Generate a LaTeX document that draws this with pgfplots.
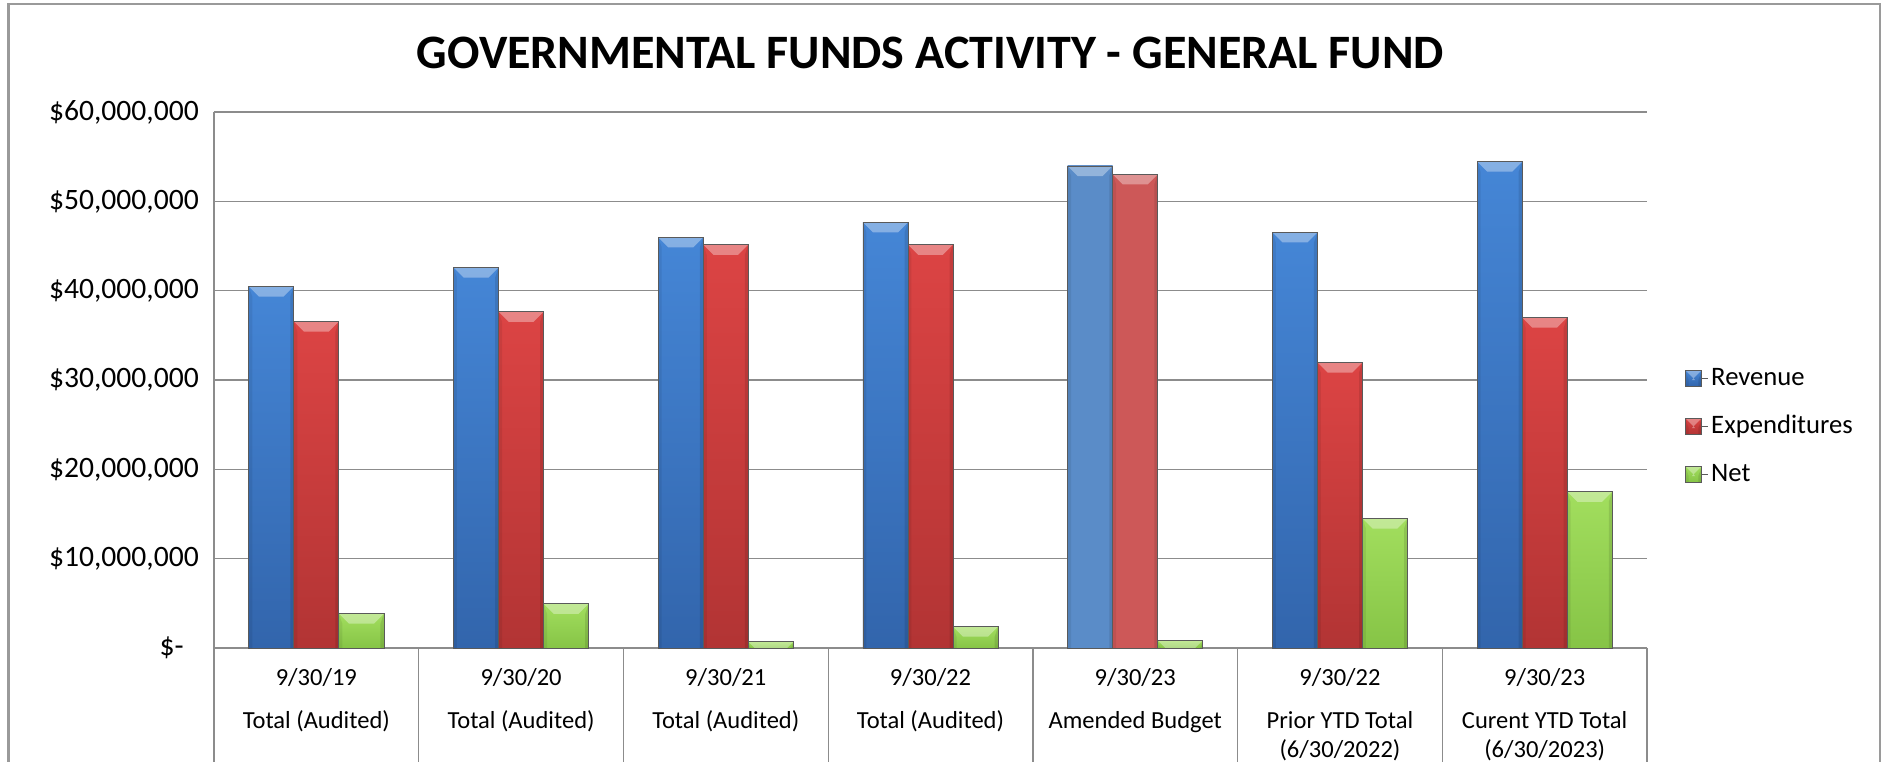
\documentclass[border=0pt]{standalone}
\usepackage{pgfplots}
\pgfplotsset{compat=1.18}
\usepackage{fontspec}
\setmainfont{Carlito}
\definecolor{revtop}{HTML}{4586D6}
\definecolor{revbot}{HTML}{3265AC}
\definecolor{exptop}{HTML}{DC4444}
\definecolor{expbot}{HTML}{B23434}
\definecolor{nettop}{HTML}{A2DE5E}
\definecolor{netbot}{HTML}{86C446}
\definecolor{amrev}{HTML}{5A8CC8}
\definecolor{amexp}{HTML}{CD5858}
\definecolor{gridc}{HTML}{8C8C8C}
\definecolor{framec}{HTML}{9A9A9A}
\definecolor{barline}{HTML}{5A5A5A}
\newcommand\ppb[1]{\pgfpointanchor{path picture bounding box}{#1}}
\newcommand\bevelcode{%
  \pgfsetfillcolor{white}\pgfsetfillopacity{0.35}%
  \pgfpathmoveto{\ppb{north west}}%
  \pgfpathlineto{\ppb{north east}}%
  \pgfpathlineto{\pgfpointadd{\ppb{north east}}{\pgfpoint{-3.8pt}{-3.8pt}}}%
  \pgfpathlineto{\pgfpointadd{\ppb{north west}}{\pgfpoint{3.8pt}{-3.8pt}}}%
  \pgfpathclose\pgfusepath{fill}%
  \pgfsetfillcolor{black}\pgfsetfillopacity{0.10}%
  \pgfpathmoveto{\ppb{north east}}%
  \pgfpathlineto{\ppb{south east}}%
  \pgfpathlineto{\pgfpointadd{\ppb{south east}}{\pgfpoint{-1.3pt}{0pt}}}%
  \pgfpathlineto{\pgfpointadd{\ppb{north east}}{\pgfpoint{-1.3pt}{-3.8pt}}}%
  \pgfpathclose\pgfusepath{fill}%
  \pgfsetfillopacity{0.07}%
  \pgfpathmoveto{\ppb{north west}}%
  \pgfpathlineto{\ppb{south west}}%
  \pgfpathlineto{\pgfpointadd{\ppb{south west}}{\pgfpoint{1.3pt}{0pt}}}%
  \pgfpathlineto{\pgfpointadd{\ppb{north west}}{\pgfpoint{1.3pt}{-3.8pt}}}%
  \pgfpathclose\pgfusepath{fill}%
}
\tikzset{bevel/.style={path picture={\bevelcode}}}
\pgfplotsset{
  revbar/.style={forget plot, bar shift=-0.22, draw=barline, line width=0.3pt, top color=revtop, bottom color=revbot, bevel},
  expbar/.style={forget plot, bar shift=0, draw=barline, line width=0.3pt, top color=exptop, bottom color=expbot, bevel},
  netbar/.style={forget plot, bar shift=0.22, draw=barline, line width=0.3pt, top color=nettop, bottom color=netbot, bevel},
}
\begin{document}
\begin{tikzpicture}[x=1pt,y=1pt]
\useasboundingbox (0,0) rectangle (708.375,285.75);
\begin{scope}
\clip (0,0) rectangle (708.375,285.75);
\fill[white] (0,0) rectangle (708.375,285.75);
\draw[line width=0.8pt, framec] (3.2,-10) -- (3.2,284.4) -- (705,284.4) -- (705,-10);
\foreach \k in {0,...,7} \draw[gridc, line width=0.5pt] (80.25+\k*76.77, 42.75) -- (80.25+\k*76.77, -10);
\end{scope}
\node[anchor=base, font=\fontsize{18}{22}\selectfont\bfseries] at (348.9,259.9) {GOVERNMENTAL FUNDS ACTIVITY - GENERAL FUND};
\begin{axis}[
  at={(80.25pt,42.75pt)}, anchor=south west,
  scale only axis, width=537.4pt, height=201pt,
  ybar, bar width=0.22,
  xmin=-0.5, xmax=6.5, ymin=0, ymax=60000000,
  enlargelimits=false,
  axis x line*=bottom, axis y line*=left,
  axis line style={gridc, line width=0.5pt},
  major tick length=0pt,
  ymajorgrids, grid style={gridc, line width=0.5pt},
  scaled y ticks=false,
  ytick={0,10000000,20000000,30000000,40000000,50000000,60000000},
  yticklabels={\$-\phantom{0},{\$10,000,000},{\$20,000,000},{\$30,000,000},{\$40,000,000},{\$50,000,000},{\$60,000,000}},
  yticklabel style={font=\fontsize{11.1}{13}\selectfont, inner sep=0pt, xshift=-5.5pt},
  xtick={0,1,2,3,4,5,6},
  xticklabels={{9/30/19\\[5.1pt]Total (Audited)},{9/30/20\\[5.1pt]Total (Audited)},{9/30/21\\[5.1pt]Total (Audited)},{9/30/22\\[5.1pt]Total (Audited)},{9/30/23\\[5.1pt]Amended Budget},{9/30/22\\[5.1pt]Prior YTD Total\\(6/30/2022)},{9/30/23\\[5.1pt]Curent YTD Total\\(6/30/2023)}},
  xticklabel style={align=center, font=\fontsize{9.2}{11}\selectfont, anchor=north, inner sep=0pt, yshift=-7.35pt},
  legend style={draw=none, fill=none, at={(1.026,0.4135)}, anchor=west,
    font=\fontsize{10}{12}\selectfont, row sep=7pt, inner sep=0pt,
    nodes={text height=7pt, text depth=2pt, inner sep=1pt},
    /tikz/every even column/.append style={column sep=0pt}},
  legend cell align=left,
  legend image code/.code={\draw[#1] (0pt,-3.1pt) rectangle (6.2pt,3.1pt); \path (6.2pt,0pt) -- (8.6pt,0pt);},
  clip=false,
]
\addlegendimage{draw=barline, line width=0.3pt, top color=revtop, bottom color=revbot, bevel}
\addlegendentry{Revenue}
\addlegendimage{draw=barline, line width=0.3pt, top color=exptop, bottom color=expbot, bevel}
\addlegendentry{Expenditures}
\addlegendimage{draw=barline, line width=0.3pt, top color=nettop, bottom color=netbot, bevel}
\addlegendentry{Net}
% Revenue
\addplot[revbar] coordinates {(0,40480000)};
\addplot[revbar] coordinates {(1,42600000)};
\addplot[revbar] coordinates {(2,45970000)};
\addplot[revbar] coordinates {(3,47650000)};
\addplot[revbar, top color=amrev, bottom color=amrev] coordinates {(4,53960000)};
\addplot[revbar] coordinates {(5,46530000)};
\addplot[revbar] coordinates {(6,54450000)};
% Expenditures
\addplot[expbar] coordinates {(0,36550000)};
\addplot[expbar] coordinates {(1,37650000)};
\addplot[expbar] coordinates {(2,45150000)};
\addplot[expbar] coordinates {(3,45150000)};
\addplot[expbar, top color=amexp, bottom color=amexp] coordinates {(4,53030000)};
\addplot[expbar] coordinates {(5,31970000)};
\addplot[expbar] coordinates {(6,37000000)};
% Net
\addplot[netbar] coordinates {(0,3850000)};
\addplot[netbar] coordinates {(1,4950000)};
\addplot[netbar] coordinates {(2,700000)};
\addplot[netbar] coordinates {(3,2400000)};
\addplot[netbar] coordinates {(4,850000)};
\addplot[netbar] coordinates {(5,14500000)};
\addplot[netbar] coordinates {(6,17500000)};
\end{axis}
\end{tikzpicture}
\end{document}
